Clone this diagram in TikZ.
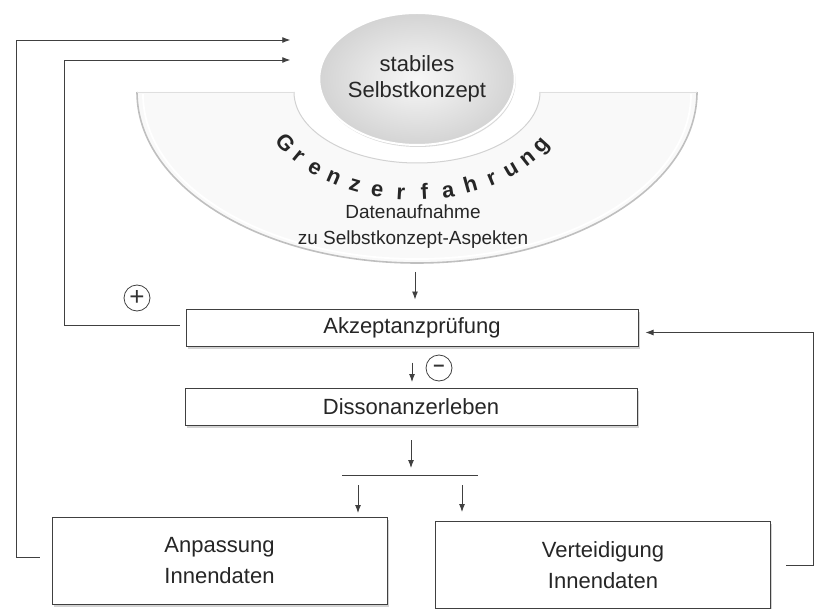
\documentclass[tikz,border=0pt]{standalone}
\usepackage{fontspec}
\setmainfont{Liberation Sans}
\usetikzlibrary{shapes.geometric,shadows,arrows.meta,calc}

\begin{document}
\begin{tikzpicture}[x=1pt,y=1pt,>={Latex[length=8pt,width=6pt]},
    line/.style={draw=black!75,line width=0.9pt},
    konzept/.style={ellipse,minimum width=192pt,minimum height=132pt,inner sep=0pt,
        align=center,shading=radial,inner color=gray!6,outer color=gray!34,
        draw=white,line width=2pt,text=black!85,font=\fontsize{22}{26}\selectfont,
        drop shadow={opacity=.3,shadow xshift=1pt,shadow yshift=-2pt}},
    kasten/.style={draw=black!75,line width=1pt,fill=white,minimum width=452pt,
        minimum height=37pt,inner sep=0pt,text=black!85,font=\fontsize{22}{26}\selectfont,
        drop shadow={opacity=.35,shadow xshift=1.5pt,shadow yshift=-2.5pt}},
    grosskasten/.style={kasten,minimum width=335pt,minimum height=87pt,align=center,
        font=\fontsize{22}{31}\selectfont},
    zeichen/.style={circle,draw=black!75,line width=0.8pt,minimum size=26pt,inner sep=0pt,
        text=black!80,font=\fontsize{26}{26}\selectfont},
    buchstabe/.style={anchor=base,inner sep=0pt,text=black!85,
        font=\bfseries\fontsize{22}{22}\selectfont},
    datentext/.style={align=center,text=black!85,font=\fontsize{19}{26}\selectfont}]

\useasboundingbox (0,0) rectangle (818,-609);

% the band under the circle
\fill[gray!5] (137,-92) arc[start angle=180,end angle=360,x radius=280,y radius=171]
    -- (540,-92) arc[start angle=0,end angle=-180,x radius=123,y radius=71] -- cycle;
\draw[gray!50,line width=1.6pt] (137,-92) arc[start angle=180,end angle=360,x radius=280,y radius=171];
\draw[white,line width=1.8pt] (143,-94) arc[start angle=180,end angle=360,x radius=274,y radius=165];
\draw[gray!35,line width=1pt] (294,-92) arc[start angle=180,end angle=360,x radius=123,y radius=71];
\draw[gray!25] (137,-92) -- (294,-92) (540,-92) -- (697,-92);

% the circle
\node[konzept] (self) at (417,-79) {stabiles\\Selbstkonzept};

% letters along the arc
\foreach \ch [count=\i from 0] in {G,r,e,n,z,e,r,f,a,h,r,u,n,g}{
    \pgfmathsetmacro\t{211+9*\i}
    \pgfmathsetmacro\rot{atan2(108*cos(\t),-156*sin(\t))}
    \node[buchstabe,rotate=\rot] (b\i) at ($(414,-92)+(\t:156 and 108)$) {\ch};
}

\node[datentext] (daten) at (413,-227) {Datenaufnahme\\zu Selbstkonzept-Aspekten};

% the boxes
\node[kasten] (akz) at (412,-327.5) {Akzeptanzprüfung};
\node[kasten] (diss) at (411,-407) {Dissonanzerleben};
\node[grosskasten] (anp) at (219.5,-561) {Anpassung\\Innendaten};
\node[grosskasten] (vert) at (603,-565) {Verteidigung\\Innendaten};

\node[zeichen] (plus) at (137,-298) {+};
\node[zeichen] (minus) at (439,-368) {\textbf{\fontsize{20}{20}\selectfont –}};

% arrows downwards
\coordinate (bandunten) at (415,-272);
\draw[line,->,shorten >=9pt] (bandunten) -- (bandunten |- akz.north);
\draw[line,->,shorten <=16pt,shorten >=6pt] (akz.south) -- (akz.south |- diss.north);
\coordinate (splitl) at (342,-475);
\coordinate (splitr) at (478,-475);
\draw[line] (splitl) -- (splitr);
\draw[line,->,shorten <=14pt,shorten >=7pt] (diss.south) -- (diss.south |- splitl);
\coordinate (zuanp) at (358,-475);
\coordinate (zuvert) at (462,-475);
\draw[line,->,shorten <=10pt,shorten >=4pt] (zuanp) -- (zuanp |- anp.north);
\draw[line,->,shorten <=10pt,shorten >=9pt] (zuvert) -- (zuvert |- vert.north);

% the feedback loops
\draw[line,->,shorten <=15pt,shorten >=7pt] (vert.east) -- ++(42,0) |- ([yshift=-5pt]akz.east);
\draw[line,->,shorten <=6pt,shorten >=28pt] ([yshift=2pt]akz.west) -- ++(-121,0) |- ([yshift=19pt]self.west);
\draw[line,->,shorten <=12pt,shorten >=28pt] ([yshift=4pt]anp.west) -- ++(-35,0) |- ([yshift=39pt]self.west);
\end{tikzpicture}
\end{document}
